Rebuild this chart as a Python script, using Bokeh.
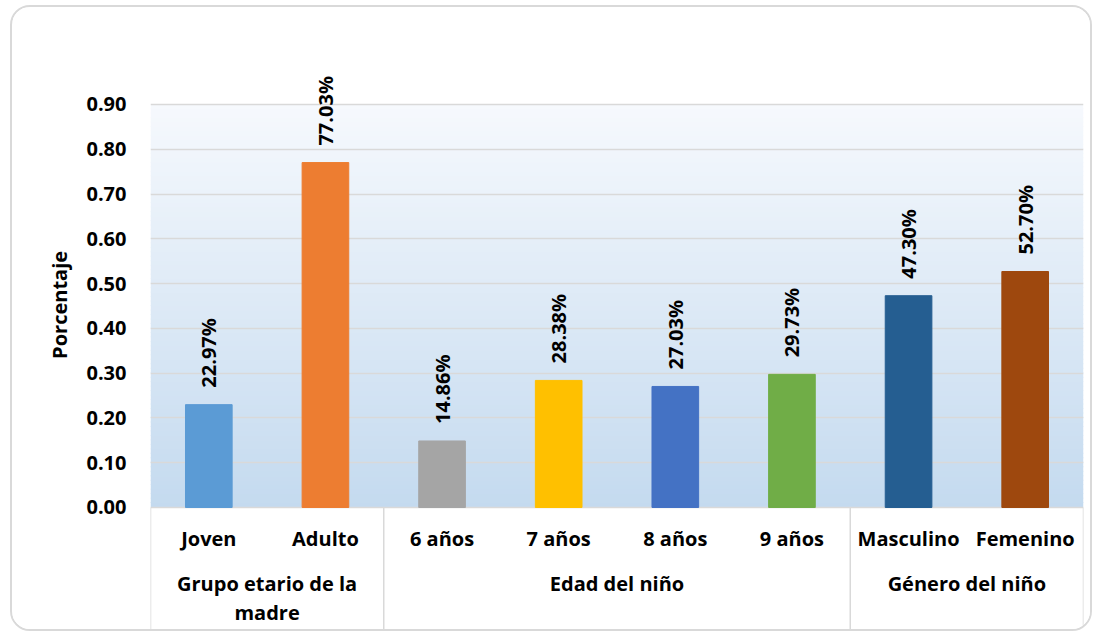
import math
from bokeh.plotting import figure
from bokeh.models import (ColumnDataSource, FixedTicker, NumeralTickFormatter,
                          BoxAnnotation, FactorRange, Range1d)
from bokeh.core.properties import value
from bokeh.embed import file_html
from bokeh.resources import INLINE

# ---------------- data ----------------
categories = ["Joven", "Adulto", "6 años", "7 años", "8 años", "9 años", "Masculino", "Femenino"]
values = [0.2297, 0.7703, 0.1486, 0.2838, 0.2703, 0.2973, 0.4730, 0.5270]
bar_colors = ["#5B9BD5", "#ED7D31", "#A5A5A5", "#FFC000", "#4472C4", "#70AD47", "#255E91", "#9E480E"]
groups = ["Grupo etario de la\nmadre", "Edad del niño", "Género del niño"]
group_members = [["Joven", "Adulto"], ["6 años", "7 años", "8 años", "9 años"], ["Masculino", "Femenino"]]
y_ticks = [0.0, 0.1, 0.2, 0.3, 0.4, 0.5, 0.6, 0.7, 0.8, 0.9]
y_title = "Porcentaje"

FONT = "Open Sans"
FS = "20px"

p = figure(width=1082, height=626, output_backend="svg", toolbar_location=None,
           x_range=FactorRange(*categories, range_padding=0),
           y_range=Range1d(-0.2814, 1.1166),
           x_axis_location=None,
           min_border_left=138, min_border_right=11, min_border_top=0, min_border_bottom=0)
p.margin = (5, 0, 0, 10)
p.styles = {"border": "2px solid #D9D9D9", "border-radius": "20px", "overflow": "hidden"}
p.outline_line_color = None
p.background_fill_color = "white"
p.border_fill_color = "white"

# gradient background of the plot area (0 .. 0.9)
n = 90
top_c = (246, 249, 253)
bot_c = (196, 218, 239)
ymax = y_ticks[-1]
for i in range(n):
    y0 = ymax * i / n
    y1 = ymax * (i + 1) / n
    t = (i + 0.5) / n
    c = tuple(int(round(bot_c[k] + (top_c[k] - bot_c[k]) * t)) for k in range(3))
    p.add_layout(BoxAnnotation(bottom=y0, top=min(y1 + 0.002, ymax), fill_color="#%02x%02x%02x" % c,
                               fill_alpha=1, line_color=None, level="image"))

# y axis
ax = p.yaxis[0]
ax.ticker = FixedTicker(ticks=y_ticks)
ax.formatter = NumeralTickFormatter(format="0.00")
ax.axis_line_color = None
ax.major_tick_line_color = None
ax.minor_tick_line_color = None
ax.major_label_text_font = FONT
ax.major_label_text_font_style = "bold"
ax.major_label_text_font_size = FS
ax.major_label_text_color = "black"
ax.major_label_standoff = 18
ax.axis_label = "\u00a0" * 6 + y_title
ax.axis_label_text_font = FONT
ax.axis_label_text_font_style = "bold"
ax.axis_label_text_font_size = FS
ax.axis_label_text_color = "black"
ax.axis_label_standoff = 10

p.xgrid.visible = False
p.ygrid.ticker = FixedTicker(ticks=y_ticks)
p.ygrid.grid_line_color = "#D9D9D9"
p.ygrid.grid_line_width = 1.5

# bars
src = ColumnDataSource(dict(x=categories, top=values, color=bar_colors,
                            label=["%.2f%%" % (v * 100) for v in values]))
p.vbar(x="x", top="top", bottom=0, width=0.4, color="color", source=src)
p.text(x="x", y="top", text="label", source=src, angle=math.pi / 2,
       text_align="left", text_baseline="middle", y_offset=-17,
       text_font=value(FONT), text_font_style="bold", text_font_size=FS, text_color="black")

# category labels (first level)
p.text(x=categories, y=[-0.0692] * len(categories), text=categories,
       text_align="center", text_baseline="middle",
       text_font=value(FONT), text_font_style="bold", text_font_size=FS, text_color="black")

# group labels
gx = []
for mem in group_members:
    m = len(mem)
    if m % 2 == 0:
        gx.append((mem[m // 2 - 1], 0.5))
    else:
        gx.append((mem[m // 2], 0.0))
gsrc = ColumnDataSource(dict(x=gx, y=[-0.139] * len(groups), text=groups))
p.text(x="x", y="y", text="text", source=gsrc, text_align="center", text_baseline="top",
       text_line_height=1.1,
       text_font=value(FONT), text_font_style="bold", text_font_size=FS, text_color="black")

# separators
sx = [(group_members[0][0], -0.5)] + [(mem[-1], 0.5) for mem in group_members]
ssrc = ColumnDataSource(dict(x0=sx, x1=sx, y0=[0] * len(sx), y1=[-0.2735] * len(sx)))
p.segment(x0="x0", y0="y0", x1="x1", y1="y1", source=ssrc, line_color="#D9D9D9", line_width=1.5)

open("out.html", "w").write(file_html(p, INLINE))
